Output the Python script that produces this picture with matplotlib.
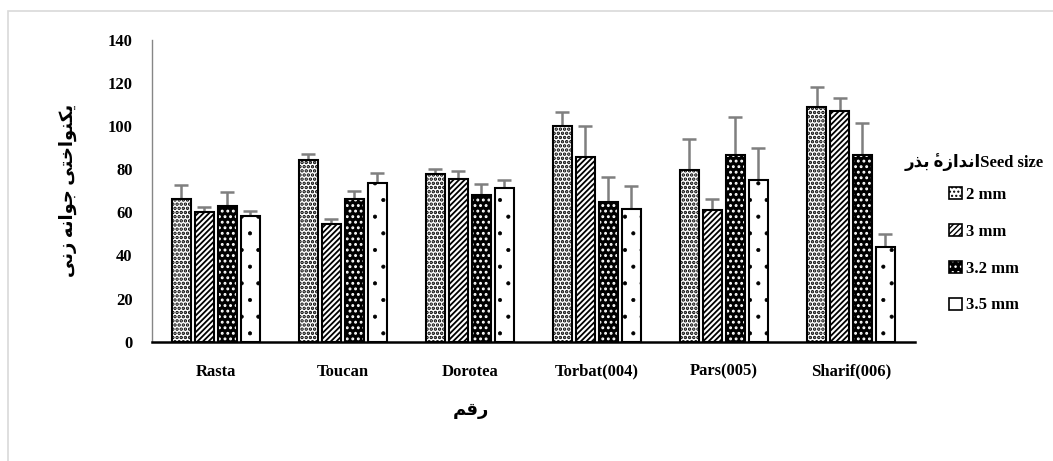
import matplotlib
matplotlib.use('Agg')
import matplotlib.pyplot as plt
import numpy as np
from matplotlib.patches import Patch, Rectangle
from matplotlib.legend_handler import HandlerTuple

plt.rcParams['font.family'] = ['Liberation Serif', 'DejaVu Sans']
plt.rcParams['font.weight'] = 'bold'

# Data
cultivars = ['Rasta', 'Toucan', 'Dorotea', 'Torbat(004)', 'Pars(005)', 'Sharif(006)']
sizes = ['2 mm', '3 mm', '3.2 mm', '3.5 mm']
mm2 = [66.3, 84.2, 77.6, 100.1, 79.7, 108.8]
mm3 = [60.2, 54.5, 75.3, 85.9, 61.2, 107.2]
mm32 = [63.0, 66.0, 68.0, 64.6, 86.5, 86.5]
mm35 = [58.1, 73.8, 71.5, 61.8, 75.0, 43.9]
err2 = [6.5, 3.0, 2.7, 6.7, 14.3, 9.6]
err3 = [2.2, 2.5, 3.7, 14.4, 5.0, 6.1]
err32 = [6.3, 4.0, 5.1, 11.7, 17.8, 15.0]
err35 = [2.6, 4.7, 3.4, 10.5, 14.8, 6.0]

ylabel = 'یکنواختی جوانه زنی'
xlabel = 'رقم'
legend_title = 'اندازۀ بذر'

# simple Arabic/Persian shaping (presentation forms + visual order)
FORMS = {
    'ا': ('\uFE8D', '\uFE8E', None, None),
    'ب': ('\uFE8F', '\uFE90', '\uFE91', '\uFE92'),
    'ت': ('\uFE95', '\uFE96', '\uFE97', '\uFE98'),
    'ج': ('\uFE9D', '\uFE9E', '\uFE9F', '\uFEA0'),
    'خ': ('\uFEA5', '\uFEA6', '\uFEA7', '\uFEA8'),
    'د': ('\uFEA9', '\uFEAA', None, None),
    'ذ': ('\uFEAB', '\uFEAC', None, None),
    'ر': ('\uFEAD', '\uFEAE', None, None),
    'ز': ('\uFEAF', '\uFEB0', None, None),
    'ق': ('\uFED5', '\uFED6', '\uFED7', '\uFED8'),
    'ک': ('\uFB8E', '\uFB8F', '\uFB90', '\uFB91'),
    'م': ('\uFEE1', '\uFEE2', '\uFEE3', '\uFEE4'),
    'ن': ('\uFEE5', '\uFEE6', '\uFEE7', '\uFEE8'),
    'ه': ('\uFEE9', '\uFEEA', '\uFEEB', '\uFEEC'),
    'و': ('\uFEED', '\uFEEE', None, None),
    'ی': ('\uFBFC', '\uFBFD', '\uFBFE', '\uFBFF'),
    # heh with hamza above: heh form + combining hamza (drawn over the heh)
    'ۀ': ('\uFEE9\u0654', '\uFEEA\u0654', None, None),
}


def dual(ch):
    return ch in FORMS and FORMS[ch][2] is not None


def shape(text):
    out = []
    for i, ch in enumerate(text):
        if ch not in FORMS:
            out.append(ch)
            continue
        prev = text[i - 1] if i > 0 else ''
        nxt = text[i + 1] if i + 1 < len(text) else ''
        jp = dual(prev)
        jn = dual(ch) and nxt in FORMS
        iso, fin, ini, med = FORMS[ch]
        if jp and jn:
            out.append(med)
        elif jp:
            out.append(fin)
        elif jn:
            out.append(ini)
        else:
            out.append(iso)
    return ''.join(reversed(''.join(out)))


fig = plt.figure(figsize=(10.53, 4.61), dpi=100)
ax = fig.add_axes([0.1445, 0.259, 0.724, 0.654])

x = np.arange(len(cultivars))
pitch = 0.181
width = 0.152
series = [mm2, mm3, mm32, mm35]
errs = [err2, err3, err32, err35]
hatches = ['....', '//////', '...', '.']
hatch_lw = [1.7, 1.3, 1.3, 0.5]

for i, (vals, err) in enumerate(zip(series, errs)):
    pos = x + (i - 1.5) * pitch
    ax.errorbar(pos, vals, yerr=[np.zeros(len(vals)), err], fmt='none',
                ecolor='#7f7f7f', elinewidth=1.8, capsize=5, capthick=1.8, zorder=1)
    with plt.rc_context({'hatch.linewidth': hatch_lw[i]}):
        if i == 2:
            ax.bar(pos, vals, width, color='black', edgecolor='white', hatch=hatches[i],
                   linewidth=0, zorder=2)
            ax.bar(pos, vals, width, fill=False, edgecolor='black', linewidth=1.5, zorder=3)
        else:
            ax.bar(pos, vals, width, color='white', edgecolor='black', hatch=hatches[i],
                   linewidth=1.5, zorder=2)

ax.set_xlim(-0.5, len(cultivars) - 0.5)
ax.set_ylim(0, 140)
ax.set_yticks(np.arange(0, 141, 20))
ax.set_xticks(x)
ax.set_xticklabels(cultivars, fontsize=12, fontweight='bold')
ax.tick_params(axis='x', length=0, pad=16)
ax.tick_params(axis='y', length=0, pad=14, labelsize=12)
for s in ['top', 'right']:
    ax.spines[s].set_visible(False)
ax.spines['left'].set_color('#868686')
ax.spines['left'].set_linewidth(1.0)
ax.spines['bottom'].set_linewidth(1.8)

ax.set_ylabel(shape(ylabel), fontsize=13, fontweight='bold', labelpad=22)
fig.text(0.447, 0.11, shape(xlabel), fontsize=13, fontweight='bold', ha='center', va='center')

# legend
with plt.rc_context({'hatch.linewidth': 1.2}):
    handles = [
        Patch(facecolor='white', edgecolor='black', hatch='....', linewidth=1.2),
        Patch(facecolor='white', edgecolor='black', hatch='//////', linewidth=1.2),
        (Patch(facecolor='black', edgecolor='white', hatch='...', linewidth=0),
         Patch(fill=False, edgecolor='black', linewidth=1.2)),
        Patch(facecolor='white', edgecolor='black', linewidth=1.2),
    ]
fig.legend(handles, sizes, loc='upper left', bbox_to_anchor=(0.887, 0.627),
           frameon=False, fontsize=12, handlelength=0.75, handleheight=0.75,
           handletextpad=0.25, labelspacing=1.25,
           handler_map={tuple: HandlerTuple(ndivide=1, pad=0)})
fig.text(0.925, 0.649, shape(legend_title) + 'Seed size', fontsize=12,
         fontweight='bold', ha='center', va='center')

# light chart frame
fig.patches.append(Rectangle((8 / 1053, -0.1), 1.2, 1 - 11 / 461 + 0.1, transform=fig.transFigure,
                             fill=False, edgecolor='#d9d9d9', linewidth=1.2))

fig.savefig('out.png', dpi=100)
